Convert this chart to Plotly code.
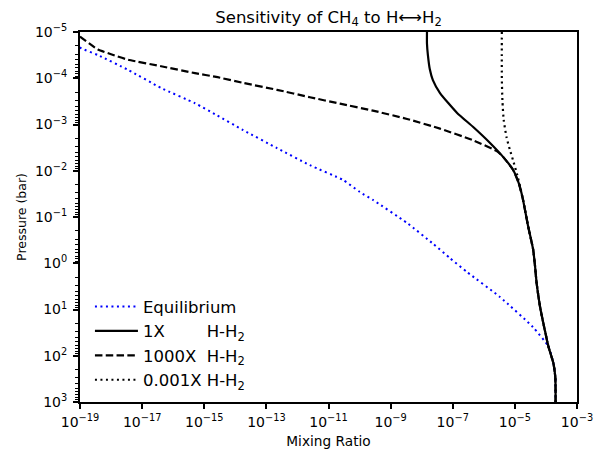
import numpy as np
import plotly.graph_objects as go

# ---- data (log10 values) ----
eq_logx = [-19.0, -18.97, -18.42, -17.45, -16.39, -15.30, -14.62, -13.75, -12.66, -11.60,
           -10.53, -9.99, -9.57, -8.47, -7.63, -7.09, -6.54, -5.48, -4.42, -3.92, -3.76, -3.70, -3.69]
eq_logp = [-4.67, -4.65, -4.50, -4.18, -3.79, -3.46, -3.21, -2.88, -2.49, -2.12,
           -1.80, -1.54, -1.37, -0.87, -0.42, -0.11, 0.19, 0.73, 1.38, 1.80, 2.16, 2.45, 3.0]

x1_logx = [-7.83, -7.83, -7.80, -7.74, -7.64, -7.41, -6.86, -6.35, -5.80, -5.38, -5.06, -4.87,
           -4.75, -4.57, -4.41, -4.35, -4.30, -4.19, -4.06, -3.92, -3.76, -3.70, -3.69, -3.69]
x1_logp = [-5.0, -4.75, -4.5, -4.2, -3.96, -3.68, -3.25, -2.95, -2.60, -2.30, -2.02, -1.72,
           -1.41, -0.79, -0.29, 0.07, 0.43, 0.94, 1.37, 1.80, 2.16, 2.45, 2.75, 3.0]

x1000_logx = [-19.0, -18.42, -18.0, -17.45, -16.39, -15.30, -14.62, -13.75, -12.66, -11.60,
              -10.63, -9.57, -8.47, -7.41, -6.35, -5.57, -5.38, -5.06, -4.87,
              -4.75, -4.57, -4.41, -4.35, -4.30, -4.19, -4.06, -3.92, -3.76, -3.70, -3.69, -3.69]
x1000_logp = [-4.90, -4.62, -4.52, -4.40, -4.26, -4.11, -4.03, -3.90, -3.75, -3.59,
              -3.45, -3.30, -3.12, -2.91, -2.66, -2.42, -2.30, -2.02, -1.72,
              -1.41, -0.79, -0.29, 0.07, 0.43, 0.94, 1.37, 1.80, 2.16, 2.45, 2.75, 3.0]

x0001_logx = [-5.42, -5.42, -5.40, -5.36, -5.27, -5.16, -5.06, -4.92, -4.82,
              -4.75, -4.57, -4.41, -4.35, -4.30, -4.19, -4.06, -3.92, -3.76, -3.70, -3.69, -3.69]
x0001_logp = [-5.0, -4.0, -3.5, -3.1, -2.73, -2.45, -2.23, -1.90, -1.62,
              -1.41, -0.79, -0.29, 0.07, 0.43, 0.94, 1.37, 1.80, 2.16, 2.45, 2.75, 3.0]

x_tick_exp = [-19, -17, -15, -13, -11, -9, -7, -5, -3]
y_tick_exp = [-5, -4, -3, -2, -1, 0, 1, 2, 3]

labels = ["Equilibrium",
          "1X" + "\u00a0" * 8 + "H-H<sub>2</sub>",
          "1000X" + "\u00a0" * 2 + "H-H<sub>2</sub>",
          "0.001X\u00a0H-H<sub>2</sub>"]

FONT = "DejaVu Sans"


def exp_label(e):
    s = str(e).replace("-", "\u2212")
    return "10<sup>" + s + "</sup>"


fig = go.Figure()
series = [
    (eq_logx, eq_logp, labels[0], dict(color="blue", width=2, dash="2px,3.5px")),
    (x1_logx, x1_logp, labels[1], dict(color="black", width=2.2)),
    (x1000_logx, x1000_logp, labels[2], dict(color="black", width=2.2, dash="7.5px,3.3px")),
    (x0001_logx, x0001_logp, labels[3], dict(color="black", width=2.2, dash="2px,3.5px")),
]
for i, (lx, lp, name, line) in enumerate(series):
    fig.add_trace(go.Scatter(
        x=10 ** np.array(lx), y=10 ** np.array(lp), mode="lines", name=name,
        line=dict(shape="spline", smoothing=0.5, **line), legendgroup=f"g{i}",
    ))

minor_y = [k * 10.0 ** n for n in range(-5, 3) for k in range(2, 10)]

fig.update_layout(
    width=612, height=451,
    margin=dict(l=80, r=35, t=32, b=49, autoexpand=False),
    paper_bgcolor="white", plot_bgcolor="white",
    font=dict(family=FONT, color="black", size=13),
    title=dict(text="Sensitivity of CH<sub>4</sub> to H\u27f7H<sub>2</sub>",
               x=0.5, xref="paper", xanchor="center",
               y=1 - 17 / 451, yref="container", yanchor="middle",
               font=dict(family=FONT, size=16.5, color="black")),
    legend=dict(x=0.02, y=0.013, xanchor="left", yanchor="bottom",
                bgcolor="rgba(0,0,0,0)", borderwidth=0, itemwidth=43,
                font=dict(family=FONT, size=16.5, color="black"),
                tracegroupgap=3.2, traceorder="normal"),
    showlegend=True,
)
fig.update_xaxes(
    type="log", range=[-19, -3], automargin=False,
    tickvals=[10.0 ** e for e in x_tick_exp], ticktext=[exp_label(e) for e in x_tick_exp],
    ticks="outside", ticklen=5, tickwidth=1.6, tickcolor="black", ticklabelstandoff=1,
    showline=True, linecolor="black", linewidth=2, mirror=True,
    showgrid=False, zeroline=False,
    tickfont=dict(family=FONT, size=14, color="black"),
    title=dict(text="Mixing Ratio", font=dict(family=FONT, size=13.7, color="black"), standoff=8),
)
fig.update_yaxes(
    type="log", range=[3, -5], automargin=False,
    tickvals=[10.0 ** e for e in y_tick_exp], ticktext=[exp_label(e) for e in y_tick_exp],
    ticks="outside", ticklen=5, tickwidth=1.6, tickcolor="black", ticklabelstandoff=3,
    minor=dict(tickvals=minor_y, ticks="outside", ticklen=3, tickwidth=1, tickcolor="black",
               showgrid=False),
    showline=True, linecolor="black", linewidth=2, mirror=True,
    showgrid=False, zeroline=False,
    tickfont=dict(family=FONT, size=14, color="black"),
    title=dict(text="Pressure (bar)", font=dict(family=FONT, size=12.5, color="black"), standoff=6),
)

fig.write_html("out.html")
